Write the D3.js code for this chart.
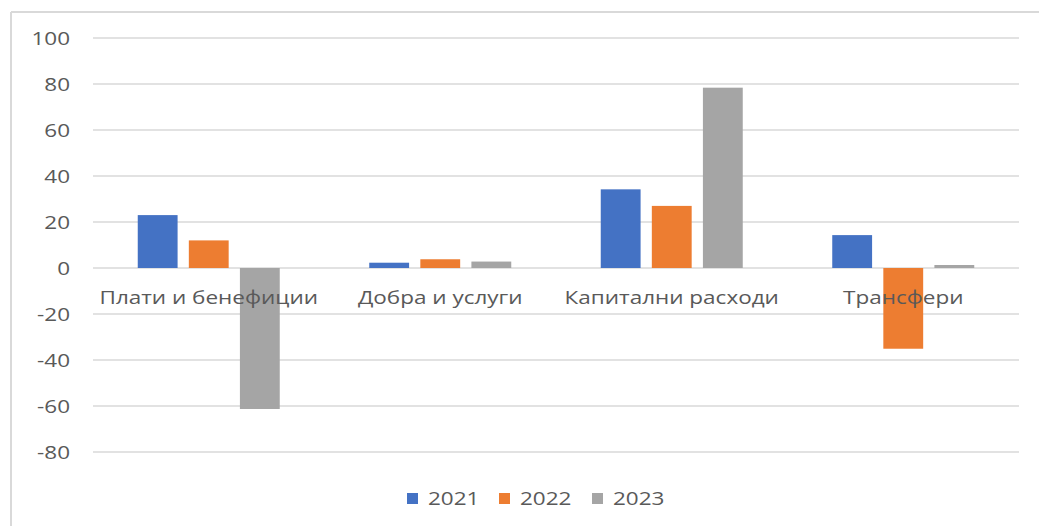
<!DOCTYPE html>
<html>
<head>
<meta charset="utf-8">
<script src="https://d3js.org/d3.v7.min.js"></script>
<style>
    body { margin: 0; background: #fff; }
    text { font-family: "Open Sans", sans-serif; fill: #595959; }
</style>
</head>
<body>
<script>

    // chart values
    var categories = ["Плати и бенефиции", "Добра и услуги", "Капитални расходи", "Трансфери"];
    var years = ["2021", "2022", "2023"];
    var v2021 = [23, 2.3, 34.2, 14.3];
    var v2022 = [12, 3.8, 27, -35.1];
    var v2023 = [-61.3, 2.8, 78.4, 1.3];
    var yTicks = [-80, -60, -40, -20, 0, 20, 40, 60, 80, 100];
    var colors = ["#4472C4", "#ED7D31", "#A5A5A5"];

    var width = 1039,
        height = 526;

    var svg = d3.select("body")
        .append("svg")
        .attr("width", width)
        .attr("height", height);

    // frame (only top + left visible in the picture)
    svg.append("line").attr("x1", 11).attr("x2", width).attr("y1", 12).attr("y2", 12)
        .attr("stroke", "#d9d9d9").attr("stroke-width", 2);
    svg.append("line").attr("x1", 11).attr("x2", 11).attr("y1", 12).attr("y2", height)
        .attr("stroke", "#d9d9d9").attr("stroke-width", 2);

    var x0 = d3.scaleBand().domain(categories).range([93, 1019]);
    var x1 = d3.scaleBand().domain(years)
        .range([44.75, x0.bandwidth() - 44.75])
        .paddingInner(0.22);
    var y = d3.scaleLinear().domain([-80, 100]).range([452, 38]);

    var stretch = 1.25;

    // gridlines
    svg.append("g").selectAll("line")
        .data(yTicks)
        .enter()
        .append("line")
        .attr("x1", 93).attr("x2", 1019)
        .attr("y1", d => y(d)).attr("y2", d => y(d))
        .attr("stroke", "#d9d9d9")
        .attr("stroke-width", 1.5);

    // y tick labels
    svg.append("g").selectAll("text")
        .data(yTicks)
        .enter()
        .append("text")
        .attr("transform", d => "translate(70," + (y(d) + 6.5) + ") scale(" + stretch + ",1)")
        .attr("text-anchor", "end")
        .attr("font-size", 18)
        .text(d => d);

    var series = [v2021, v2022, v2023];
    series.forEach(function (vals, i) {
        svg.append("g").selectAll("rect")
            .data(vals)
            .enter()
            .append("rect")
            .attr("x", (d, j) => x0(categories[j]) + x1(years[i]))
            .attr("width", x1.bandwidth())
            .attr("y", d => y(Math.max(0, d)))
            .attr("height", d => Math.abs(y(d) - y(0)))
            .attr("fill", colors[i]);
    });

    // category labels (on top of the bars)
    svg.append("g").selectAll("text")
        .data(categories)
        .enter()
        .append("text")
        .attr("transform", d => "translate(" + (x0(d) + x0.bandwidth() / 2) + "," + (y(0) + 36) + ") scale(" + stretch + ",1)")
        .attr("text-anchor", "middle")
        .attr("font-size", 18)
        .text(d => d);

    // legend
    var legendX = [407, 499, 592];
    var legend = svg.append("g");
    years.forEach(function (yr, i) {
        legend.append("rect")
            .attr("x", legendX[i]).attr("y", 493)
            .attr("width", 11).attr("height", 11)
            .attr("fill", colors[i]);
        legend.append("text")
            .attr("transform", "translate(" + (legendX[i] + 21) + ",505) scale(" + stretch + ",1)")
            .attr("font-size", 18)
            .text(yr);
    });

</script>
</body>
</html>
